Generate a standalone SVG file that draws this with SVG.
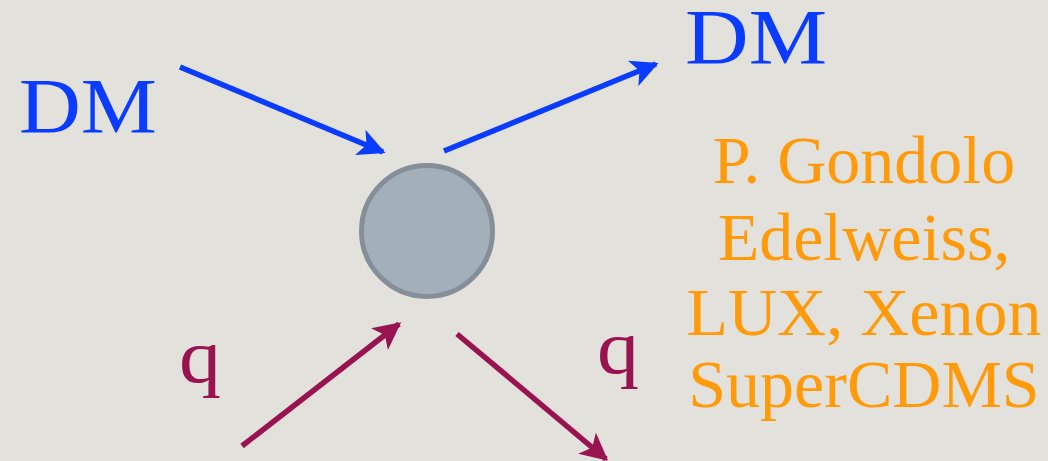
<svg xmlns="http://www.w3.org/2000/svg" width="1048" height="461" viewBox="0 0 1048 461">
<style>
.dm{font-family:"Liberation Serif","Times New Roman",serif;font-size:78px;fill:#0a3cff}
.q{font-family:"Liberation Serif","Times New Roman",serif;font-size:76px;fill:#991350}
.ref{font-family:"Liberation Serif","Times New Roman",serif;font-size:68px;fill:#ff9a0a;text-anchor:middle}
.blue{stroke:#0a3cff;stroke-width:5.5;fill:none}
.red{stroke:#991350;stroke-width:5.5;fill:none}
</style>
<defs>
<marker id="ab" viewBox="0 0 10 10" refX="9" refY="5" markerWidth="5" markerHeight="5" orient="auto" markerUnits="strokeWidth"><path d="M0,0 L10,5 L0,10 L2.5,5 Z" fill="#0a3cff"/></marker>
<marker id="ar" viewBox="0 0 10 10" refX="9" refY="5" markerWidth="5" markerHeight="5" orient="auto" markerUnits="strokeWidth"><path d="M0,0 L10,5 L0,10 L2.5,5 Z" fill="#991350"/></marker>
</defs>
<rect width="1048" height="461" fill="#e3e1dc"/>
<g id="vertex">
<circle cx="427" cy="231" r="65.5" fill="#a3b0ba" stroke="#868f99" stroke-width="5"/>
</g>
<g id="connectors">
<line class="blue" x1="180" y1="67" x2="383" y2="152" marker-end="url(#ab)"/>
<line class="blue" x1="444" y1="151" x2="656" y2="64" marker-end="url(#ab)"/>
<line class="red" x1="242" y1="446" x2="399" y2="324" marker-end="url(#ar)"/>
<line class="red" x1="457" y1="334" x2="606" y2="459" marker-end="url(#ar)"/>
</g>
<g id="dm-in"><text class="dm" x="19" y="132" textLength="138" lengthAdjust="spacingAndGlyphs">DM</text></g>
<g id="dm-out"><text class="dm" x="685" y="63" textLength="142" lengthAdjust="spacingAndGlyphs">DM</text></g>
<g id="q-in"><text class="q" x="179" y="382" textLength="42" lengthAdjust="spacingAndGlyphs">q</text></g>
<g id="q-out"><text class="q" x="597" y="373" textLength="42" lengthAdjust="spacingAndGlyphs">q</text></g>
<g id="refs">
<text class="ref" x="864" y="183">P. Gondolo</text>
<text class="ref" x="864" y="260">Edelweiss,</text>
<text class="ref" x="864" y="335">LUX, Xenon</text>
<text class="ref" x="864" y="407">SuperCDMS</text>
</g>
</svg>
